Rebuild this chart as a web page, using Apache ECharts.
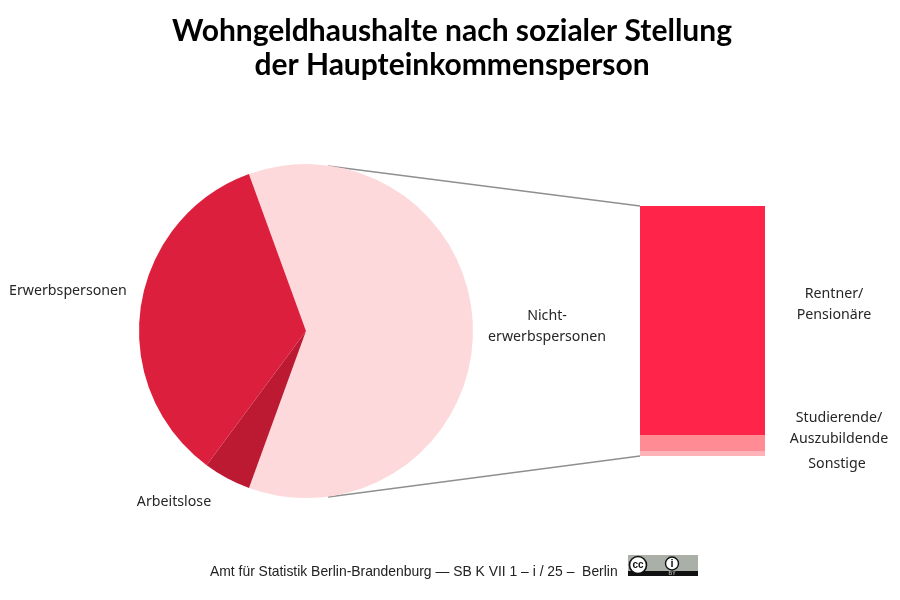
<!DOCTYPE html>
<html><head><meta charset="utf-8">
<style>html,body{margin:0;padding:0;background:#fff}#c{width:900px;height:600px}</style>
<script src="https://cdn.jsdelivr.net/npm/echarts@6/dist/echarts.min.js"></script>
</head><body><div id="c"></div>
<script>
const pieNames = ['Nichterwerbspersonen','Arbeitslose','Erwerbspersonen'];
const pieValues = [61.1,4.6,34.3];
const barNames = ['Sonstige','Studierende/Auszubildende','Rentner/Pensionäre'];
const barValues = [2,6.4,91.6];
const pieColors = ['#FDD9DB','#BC1A33','#DD1F3E'];
const barColors = ['#FFB3B9','#FF8B95','#FF2449'];
const titleText = 'Wohngeldhaushalte nach sozialer Stellung\nder Haupteinkommensperson';
const footer = 'Amt für Statistik Berlin-Brandenburg — SB K VII 1 – i / 25 –  Berlin';
const lbl = (x,y,t,align)=>({type:'text',x,y,silent:true,style:{text:t,fill:'#262626',font:'400 14.2px "Noto Sans"',align:align||'center',verticalAlign:'middle',lineHeight:21}});
const chart = echarts.init(document.getElementById('c'),null,{renderer:'canvas'});
chart.setOption({
  animation:false,
  backgroundColor:'#fff',
  title:{text:titleText,left:447,textAlign:'center',top:9,textStyle:{fontFamily:'Lato',fontWeight:'bold',fontSize:30,lineHeight:34,color:'#000'}},
  grid:{left:640,top:206,width:125,height:250},
  xAxis:{type:'category',data:['Nichterwerbspersonen'],show:false},
  yAxis:{type:'value',min:0,max:100,show:false},
  series:[
    {type:'pie',center:[306,331],radius:[0,167],startAngle:110,clockwise:true,silent:true,label:{show:false},labelLine:{show:false},
     data:pieNames.map((n,i)=>({name:n,value:pieValues[i],itemStyle:{color:pieColors[i]}}))},
    ...barNames.map((n,i)=>({type:'bar',name:n,stack:'a',barWidth:'100%',silent:true,data:[barValues[i]],itemStyle:{color:barColors[i]}}))
  ],
  graphic:[
    {type:'line',silent:true,z:-1,shape:{x1:328,y1:166,x2:640,y2:206},style:{stroke:'#8f8f8f',lineWidth:1.3}},
    {type:'line',silent:true,z:-1,shape:{x1:328,y1:497,x2:640,y2:456},style:{stroke:'#8f8f8f',lineWidth:1.3}},
    lbl(68,291,'Erwerbspersonen'),
    lbl(174,502,'Arbeitslose'),
    lbl(547,326,'Nicht-\nerwerbspersonen'),
    lbl(834,304,'Rentner/\nPensionäre'),
    lbl(839,428,'Studierende/\nAuszubildende'),
    lbl(837,464,'Sonstige'),
    {type:'text',x:210,y:572,silent:true,style:{text:footer,fill:'#222',font:'13.9px "Liberation Sans"',align:'left',verticalAlign:'middle'}},
    {type:'rect',silent:true,shape:{x:628,y:555,width:70,height:21},style:{fill:'#aab0a8'}},
    {type:'rect',silent:true,shape:{x:628,y:571,width:70,height:5},style:{fill:'#111'}},
    {type:'circle',silent:true,shape:{cx:638,cy:565,r:8.5},style:{fill:'#fff',stroke:'#111',lineWidth:1.6}},
    {type:'text',x:638,y:565,silent:true,style:{text:'cc',fill:'#111',font:'bold 10px "Liberation Sans"',align:'center',verticalAlign:'middle'}},
    {type:'circle',silent:true,shape:{cx:672,cy:563.5,r:6.5},style:{fill:'#fff',stroke:'#111',lineWidth:1.4}},
    {type:'text',x:672,y:564,silent:true,style:{text:'i',fill:'#111',font:'bold 11px "Liberation Sans"',align:'center',verticalAlign:'middle'}},
    {type:'text',x:672,y:573.5,silent:true,style:{text:'BY',fill:'#aab0a8',font:'bold 5px "Liberation Sans"',align:'center',verticalAlign:'middle'}}
  ]
});
</script></body></html>
